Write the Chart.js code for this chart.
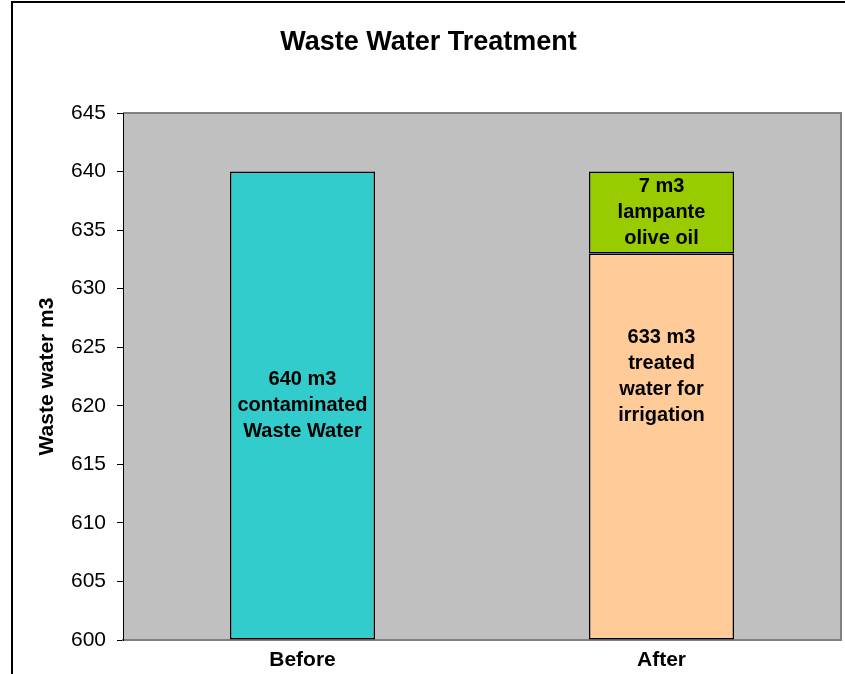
<!DOCTYPE html>
<html>
<head>
<meta charset="utf-8">
<script src="https://cdn.jsdelivr.net/npm/chart.js@4/dist/chart.umd.min.js"></script>
<style>
  html, body { margin: 0; padding: 0; background: #fff; }
  #wrap { width: 845px; height: 674px; }
</style>
</head>
<body>
<div id="wrap"><canvas id="c" width="845" height="674"></canvas></div>
<script>
// ---- data ----
const categories = ['Before', 'After'];
const contaminated = [640, null];   // m3 contaminated waste water
const treated = [null, 633];        // m3 treated water for irrigation
const oliveOil = [null, 7];         // m3 lampante olive oil
const yMin = 600;
const yMax = 645;
const yStep = 5;
const chartTitle = 'Waste Water Treatment';
const yTitle = 'Waste water m3';
// in-bar labels: dataset index, category index, text lines, value at which the label is centred
const barLabels = [
  { ds: 0, idx: 0, lines: ['640 m3', 'contaminated', 'Waste Water'], at: 620 },
  { ds: 1, idx: 1, lines: ['633 m3', 'treated', 'water for', 'irrigation'], at: 622.5 },
  { ds: 2, idx: 1, lines: ['7 m3', 'lampante', 'olive oil'], at: 636.5 }
];

const FONT = "'Liberation Sans', Arial, Helvetica, sans-serif";

const framePlugin = {
  id: 'frame',
  beforeDraw(chart) {
    const { ctx, chartArea: a } = chart;
    ctx.save();
    ctx.fillStyle = '#ffffff';
    ctx.fillRect(0, 0, chart.width, chart.height);
    // outer chart border (left and top visible)
    ctx.fillStyle = '#000000';
    ctx.fillRect(11, 1, 2, chart.height);
    ctx.fillRect(11, 1, chart.width, 2);
    // plot area
    ctx.fillStyle = '#C0C0C0';
    ctx.fillRect(a.left, a.top, a.right - a.left, a.bottom - a.top);
    ctx.strokeStyle = '#808080';
    ctx.lineWidth = 2;
    ctx.beginPath();
    ctx.moveTo(a.left, a.top);
    ctx.lineTo(a.right, a.top);
    ctx.lineTo(a.right, a.bottom);
    ctx.stroke();
    ctx.restore();
  },
  afterDatasetsDraw(chart) {
    const { ctx } = chart;
    const y = chart.scales.y;
    ctx.save();
    ctx.fillStyle = '#000000';
    ctx.font = 'bold 20px ' + FONT;
    ctx.textAlign = 'center';
    ctx.textBaseline = 'middle';
    const lh = 26;
    barLabels.forEach(l => {
      const el = chart.getDatasetMeta(l.ds).data[l.idx];
      const cx = el.x;
      const cy = y.getPixelForValue(l.at);
      const n = l.lines.length;
      l.lines.forEach((t, i) => {
        ctx.fillText(t, cx, cy + (i - (n - 1) / 2) * lh);
      });
    });
    ctx.restore();
  }
};

new Chart(document.getElementById('c'), {
  type: 'bar',
  data: {
    labels: categories,
    datasets: [
      { label: 'contaminated', data: contaminated, base: yMin, backgroundColor: '#33CCCC' },
      { label: 'treated', data: treated, base: yMin, backgroundColor: '#FFCC99' },
      { label: 'olive oil', data: oliveOil, backgroundColor: '#99CC00' }
    ]
  },
  options: {
    responsive: false,
    devicePixelRatio: 1,
    animation: false,
    layout: { padding: { left: 16, right: 4, top: 0, bottom: 0 } },
    datasets: {
      bar: {
        borderColor: '#000000',
        borderWidth: 1.5,
        borderSkipped: false,
        categoryPercentage: 1,
        barPercentage: 0.404
      }
    },
    plugins: {
      legend: { display: false },
      tooltip: { enabled: false },
      title: {
        display: true,
        text: chartTitle,
        color: '#000',
        font: { family: FONT, size: 27, weight: 'bold', lineHeight: 1.2 },
        padding: { top: 26, bottom: 54.6 }
      }
    },
    scales: {
      x: {
        stacked: true,
        grid: { display: false },
        border: { display: true, color: '#808080', width: 2 },
        ticks: { color: '#000', padding: 0, font: { family: FONT, size: 21, weight: 'bold' } },
        afterFit(s) { s.height = 34; }
      },
      y: {
        stacked: true,
        min: yMin,
        max: yMax,
        grid: { drawOnChartArea: false, drawTicks: true, tickLength: 6, tickColor: '#000', tickWidth: 1 },
        border: { display: true, color: '#000', width: 1 },
        ticks: { stepSize: yStep, color: '#000', padding: 11, font: { family: FONT, size: 21 } },
        title: {
          display: true,
          text: yTitle,
          color: '#000',
          font: { family: FONT, size: 21, weight: 'bold', lineHeight: 1.2 },
          padding: { top: 19, bottom: 0 }
        },
        afterFit(s) { s.width = 107; }
      }
    }
  },
  plugins: [framePlugin]
});
</script>
</body>
</html>
